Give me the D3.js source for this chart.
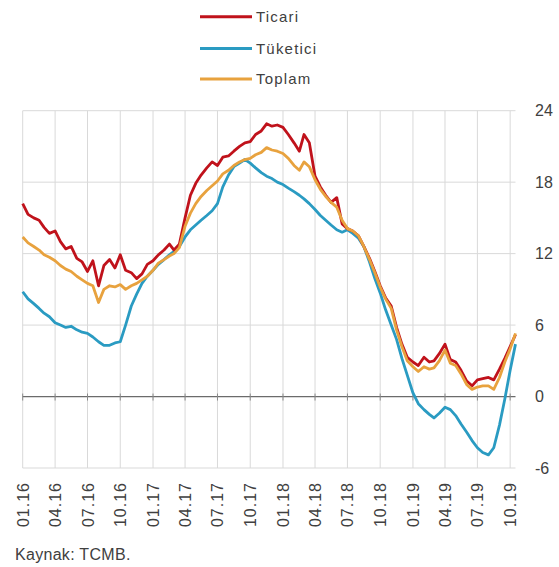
<!DOCTYPE html>
<html>
<head>
<meta charset="utf-8">
<script src="https://cdn.jsdelivr.net/npm/d3@7"></script>
<style>
    body { margin: 0; background: #fff; }
    text { font-family: "Liberation Sans", Arial, sans-serif; fill: #404040; }
</style>
</head>
<body>
<div class="chartDiv"></div>
<script>
// semi-monthly readings, 01.16 -> mid 10.19
var ticari = [16.2, 15.3, 15.0, 14.8, 14.2, 13.7, 13.9, 13.0, 12.4, 12.6,
    11.6, 11.3, 10.5, 11.4, 9.3, 11.0, 11.5, 10.8, 11.9, 10.6,
    10.4, 9.9, 10.3, 11.1, 11.4, 11.9, 12.3, 12.8, 12.3, 12.8,
    15.0, 16.9, 17.9, 18.6, 19.2, 19.7, 19.4, 20.1, 20.2, 20.6,
    21.0, 21.3, 21.4, 22.0, 22.3, 22.9, 22.7, 22.8, 22.6, 22.0,
    21.3, 20.6, 22.0, 21.3, 18.5, 17.6, 16.9, 16.3, 16.7, 14.5,
    14.1, 13.9, 13.5, 12.6, 11.6, 10.5, 9.3, 8.3, 7.6, 5.8,
    4.4, 3.3, 2.9, 2.6, 3.3, 2.9, 3.0, 3.6, 4.4, 3.1,
    2.9, 2.2, 1.3, 0.9, 1.4, 1.5, 1.6, 1.4, 2.3, 3.2,
    4.2, 5.2];
var tuketici = [8.8, 8.2, 7.8, 7.4, 7.0, 6.7, 6.2, 6.0, 5.8, 5.9,
    5.6, 5.4, 5.3, 5.0, 4.6, 4.3, 4.3, 4.5, 4.6, 6.0,
    7.6, 8.6, 9.5, 10.1, 10.6, 11.1, 11.5, 11.9, 12.2, 12.6,
    13.4, 14.0, 14.4, 14.8, 15.2, 15.6, 16.2, 17.6, 18.6, 19.3,
    19.6, 19.9, 19.6, 19.2, 18.8, 18.5, 18.3, 18.0, 17.8, 17.5,
    17.2, 16.9, 16.6, 16.2, 15.7, 15.2, 14.8, 14.4, 14.0, 13.8,
    14.0, 13.7, 13.3, 12.6, 11.3, 9.9, 8.7, 7.3, 6.0, 4.8,
    3.2, 1.8, 0.3, -0.6, -1.1, -1.5, -1.8, -1.4, -0.9, -1.1,
    -1.6, -2.3, -3.0, -3.7, -4.3, -4.7, -4.9, -4.3, -2.4, -0.2,
    2.2, 4.4];
var toplam = [13.4, 12.9, 12.6, 12.3, 11.9, 11.7, 11.4, 11.0, 10.7, 10.5,
    10.1, 9.8, 9.5, 9.3, 7.9, 9.0, 9.3, 9.2, 9.4, 9.0,
    9.3, 9.5, 9.8, 10.1, 10.6, 11.2, 11.5, 11.8, 12.0, 12.5,
    14.3, 15.4, 16.2, 16.8, 17.3, 17.7, 18.1, 18.7, 19.0, 19.4,
    19.7, 19.9, 20.0, 20.3, 20.5, 20.9, 20.7, 20.6, 20.4, 20.0,
    19.4, 19.0, 19.7, 19.3, 18.2, 17.4, 16.8, 16.3, 15.9, 14.8,
    14.1, 13.9, 13.5, 12.6, 11.5, 10.4, 9.2, 8.2, 7.4, 5.6,
    4.2, 3.0, 2.5, 2.1, 2.5, 2.3, 2.4, 3.0, 3.9, 2.8,
    2.6, 1.9, 1.0, 0.6, 0.8, 0.9, 0.9, 0.6, 1.6, 2.9,
    4.0, 5.3];
var dates = ticari.map(function(d, i) { return new Date(2016, Math.floor(i / 2), i % 2 ? 16 : 1); });
var tickLabels = ["01.16", "04.16", "07.16", "10.16", "01.17", "04.17", "07.17", "10.17",
    "01.18", "04.18", "07.18", "10.18", "01.19", "04.19", "07.19", "10.19"];
var yTicks = [24, 18, 12, 6, 0, -6];
var seriesNames = ["Ticari", "Tüketici", "Toplam"];
var seriesColors = ["#c0121b", "#2a9bc2", "#e8a23e"];

var width = 559, height = 567;
var svg = d3.select(".chartDiv").append("svg")
    .attr("width", width)
    .attr("height", height);

var x = d3.scaleTime()
    .domain([new Date(2016, 0, 1), new Date(2019, 9, 16)])
    .range([22.7, 515.5]);
var y = d3.scaleLinear()
    .domain([-6, 24])
    .range([468, 110.7]);

var tickDates = tickLabels.map(function(t) {
    return new Date(2000 + +t.slice(3), +t.slice(0, 2) - 1, 1);
});

// grid
svg.append("g").selectAll("line.v")
    .data(tickDates)
    .enter().append("line")
    .attr("x1", function(d) { return x(d); })
    .attr("x2", function(d) { return x(d); })
    .attr("y1", y(24))
    .attr("y2", y(-6))
    .attr("stroke", "#d9d9d9")
    .attr("stroke-width", 1);

svg.append("g").selectAll("line.h")
    .data(yTicks.filter(function(d) { return d !== 0; }))
    .enter().append("line")
    .attr("x1", x.range()[0])
    .attr("x2", x.range()[1])
    .attr("y1", function(d) { return y(d); })
    .attr("y2", function(d) { return y(d); })
    .attr("stroke", "#d9d9d9")
    .attr("stroke-width", 1);

// zero axis with small ticks
svg.append("line")
    .attr("x1", x.range()[0])
    .attr("x2", x.range()[1])
    .attr("y1", y(0))
    .attr("y2", y(0))
    .attr("stroke", "#6b6b6b")
    .attr("stroke-width", 1.2);

svg.append("g").selectAll("line")
    .data(tickDates)
    .enter().append("line")
    .attr("x1", function(d) { return x(d); })
    .attr("x2", function(d) { return x(d); })
    .attr("y1", y(0) - 3)
    .attr("y2", y(0) + 4)
    .attr("stroke", "#8a8a8a")
    .attr("stroke-width", 1);

// right axis labels
svg.append("g").selectAll("text")
    .data(yTicks)
    .enter().append("text")
    .attr("x", 535)
    .attr("y", function(d) { return y(d); })
    .attr("dy", "0.36em")
    .style("font-size", "16px")
    .text(function(d) { return d; });

// x labels rotated
svg.append("g").selectAll("text")
    .data(tickDates)
    .enter().append("text")
    .attr("transform", function(d) { return "translate(" + (x(d) + 6) + ",482) rotate(-90)"; })
    .attr("text-anchor", "end")
    .style("font-size", "16px")
    .style("letter-spacing", "1px")
    .text(function(d, i) { return tickLabels[i]; });

// lines
var line = d3.line()
    .x(function(d, i) { return x(dates[i]); })
    .y(function(d) { return y(d); });

var drawOrder = [[tuketici, 1], [ticari, 0], [toplam, 2]];
drawOrder.forEach(function(s) {
    svg.append("path")
        .datum(s[0])
        .attr("d", line)
        .attr("fill", "none")
        .attr("stroke", seriesColors[s[1]])
        .attr("stroke-width", 2.8)
        .attr("stroke-linejoin", "round");
});

// legend
var legendY = [16.7, 48.5, 79];
seriesNames.forEach(function(name, i) {
    svg.append("line")
        .attr("x1", 200)
        .attr("x2", 252)
        .attr("y1", legendY[i])
        .attr("y2", legendY[i])
        .attr("stroke", seriesColors[i])
        .attr("stroke-width", 3);
    svg.append("text")
        .attr("x", 256)
        .attr("y", legendY[i])
        .attr("dy", "0.36em")
        .style("font-size", "15px")
        .style("letter-spacing", "1.2px")
        .text(name);
});

svg.append("text")
    .attr("x", 15)
    .attr("y", 560)
    .style("font-size", "16px")
    .style("letter-spacing", "0.3px")
    .text("Kaynak: TCMB.");
</script>
</body>
</html>
